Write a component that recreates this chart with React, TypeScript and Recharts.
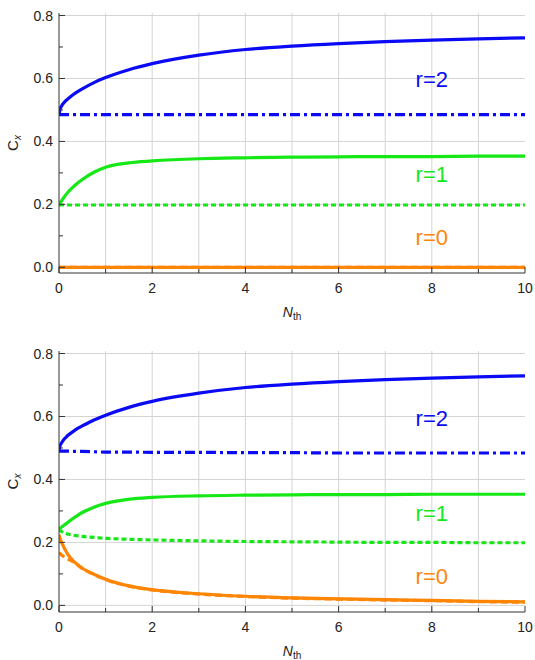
import React from 'react';
import { LineChart, Line, XAxis, YAxis, CartesianGrid, ReferenceDot, Label } from 'recharts';

// ---- data ----
const nTh = [0, 0.02, 0.05, 0.1, 0.15, 0.2, 0.3, 0.4, 0.5, 0.75, 1, 1.5, 2, 3, 4, 5, 6, 7, 8, 9, 10];

// top panel
const blueSolidA = [0.484, 0.501, 0.511, 0.522, 0.53, 0.536, 0.548, 0.558, 0.567, 0.587, 0.603, 0.628, 0.647, 0.674, 0.692, 0.703, 0.711, 0.717, 0.722, 0.726, 0.729];
const blueDashA = [0.485, 0.485, 0.485, 0.485, 0.485, 0.485, 0.485, 0.485, 0.485, 0.485, 0.485, 0.485, 0.485, 0.485, 0.485, 0.485, 0.485, 0.485, 0.485, 0.485, 0.485];
const greenSolidA = [0.198, 0.203, 0.21, 0.221, 0.231, 0.24, 0.255, 0.268, 0.279, 0.302, 0.318, 0.332, 0.338, 0.345, 0.348, 0.35, 0.351, 0.352, 0.352, 0.353, 0.353];
const greenDashA = [0.198, 0.198, 0.198, 0.198, 0.198, 0.198, 0.198, 0.198, 0.198, 0.198, 0.198, 0.198, 0.198, 0.198, 0.198, 0.198, 0.198, 0.198, 0.198, 0.198, 0.198];
const orangeSolidA = [0, 0, 0, 0, 0, 0, 0, 0, 0, 0, 0, 0, 0, 0, 0, 0, 0, 0, 0, 0, 0];
const orangeDashA = [0, 0, 0, 0, 0, 0, 0, 0, 0, 0, 0, 0, 0, 0, 0, 0, 0, 0, 0, 0, 0];

// bottom panel
const blueSolidB = [0.49, 0.506, 0.515, 0.526, 0.534, 0.541, 0.552, 0.562, 0.57, 0.589, 0.604, 0.629, 0.648, 0.674, 0.692, 0.703, 0.711, 0.717, 0.722, 0.726, 0.729];
const blueDashB = [0.49, 0.49, 0.49, 0.49, 0.49, 0.49, 0.489, 0.489, 0.489, 0.488, 0.487, 0.487, 0.486, 0.486, 0.485, 0.485, 0.484, 0.484, 0.484, 0.484, 0.484];
const greenSolidB = [0.241, 0.244, 0.248, 0.254, 0.259, 0.265, 0.276, 0.286, 0.295, 0.312, 0.324, 0.337, 0.343, 0.348, 0.35, 0.351, 0.352, 0.352, 0.353, 0.353, 0.353];
const greenDashB = [0.241, 0.238, 0.235, 0.231, 0.228, 0.226, 0.223, 0.221, 0.219, 0.216, 0.213, 0.21, 0.208, 0.205, 0.203, 0.202, 0.201, 0.2, 0.2, 0.199, 0.199];
const orangeSolidB = [0.225, 0.214, 0.202, 0.186, 0.172, 0.16, 0.142, 0.129, 0.118, 0.099, 0.083, 0.062, 0.05, 0.037, 0.029, 0.024, 0.021, 0.018, 0.016, 0.013, 0.011];
const orangeDashB = [0.168, 0.165, 0.161, 0.155, 0.15, 0.146, 0.139, 0.128, 0.117, 0.098, 0.082, 0.061, 0.049, 0.036, 0.028, 0.023, 0.02, 0.017, 0.015, 0.012, 0.01];

const yTicks = [0, 0.1, 0.2, 0.3, 0.4, 0.5, 0.6, 0.7, 0.8];
const yGrid = [0, 0.2, 0.4, 0.6, 0.8];
const xTicks = [0, 1, 2, 3, 4, 5, 6, 7, 8, 9, 10];
const xGrid = [1, 2, 3, 4, 5, 6, 7, 8, 9];
const curveLabels = ['r=2', 'r=1', 'r=0'];

// ---- style ----
const FONT = '"Liberation Sans", Arial, sans-serif';
const BLUE = '#0a0af5';
const GREEN = '#16e816';
const ORANGE = '#ff8505';
const AXIS = '#333';
const GRID = '#d4d4d4';

const buildRows = (s: number[][]) =>
  nTh.map((n, i) => ({ n, bs: s[0][i], bd: s[1][i], gs: s[2][i], gd: s[3][i], os: s[4][i], od: s[5][i] }));

const rowsA = buildRows([blueSolidA, blueDashA, greenSolidA, greenDashA, orangeSolidA, orangeDashA]);
const rowsB = buildRows([blueSolidB, blueDashB, greenSolidB, greenDashB, orangeSolidB, orangeDashB]);

const YTick = (props: any) => {
  const { x, y, payload } = props;
  const v = payload.value as number;
  const major = Math.round(v * 10) % 2 === 0;
  return (
    <g>
      <line x1={x} x2={x + (major ? 6 : 4)} y1={y} y2={y} stroke={AXIS} strokeWidth={1} />
      {major && (
        <text x={x - 6} y={y} dy={5} textAnchor="end" fontFamily={FONT} fontSize={14} fill="#222">
          {v.toFixed(1)}
        </text>
      )}
    </g>
  );
};

const XTick = (props: any) => {
  const { x, y, payload } = props;
  const v = payload.value as number;
  const major = v % 2 === 0;
  return (
    <g>
      <line x1={x} x2={x} y1={y} y2={y - (major ? 6 : 4)} stroke={AXIS} strokeWidth={1} />
      {major && (
        <text x={x} y={y + 20} textAnchor="middle" fontFamily={FONT} fontSize={14} fill="#222">
          {v}
        </text>
      )}
    </g>
  );
};

const XTitle = (props: any) => {
  const vb = props.viewBox;
  const cx = vb.x + vb.width / 2;
  const cy = vb.y + 44;
  return (
    <text x={cx} y={cy} textAnchor="middle" fontFamily={FONT} fontSize={14} fill="#222">
      <tspan fontStyle="italic">N</tspan>
      <tspan fontSize={10} dy={3}>th</tspan>
    </text>
  );
};

const YTitle = (props: any) => {
  const vb = props.viewBox;
  const cx = 13;
  const cy = vb.y + vb.height / 2;
  return (
    <text
      x={cx}
      y={cy}
      textAnchor="middle"
      transform={`rotate(-90 ${cx} ${cy})`}
      dy={5}
      fontFamily={FONT}
      fontSize={15}
      fill="#222"
    >
      <tspan>C</tspan>
      <tspan fontSize={10} fontStyle="italic" dy={3}>x</tspan>
    </text>
  );
};

type PanelProps = {
  rows: any[];
  yMin: number;
  top: number;
  xAxisHeight: number;
  labelY: number[];
};

const Panel = ({ rows, yMin, top, xAxisHeight, labelY }: PanelProps) => {
  const yDomain: [number, number] = [yMin, 0.808];
  const colors = [BLUE, GREEN, ORANGE];
  return (
    <LineChart width={535} height={330} data={rows} margin={{ top, right: 10, bottom: 0, left: 0 }}>
      <CartesianGrid
        stroke={GRID}
        strokeWidth={1}
        horizontalValues={yGrid}
        verticalValues={xGrid}
      />
      <XAxis
        dataKey="n"
        type="number"
        domain={[0, 10]}
        ticks={xTicks}
        interval={0}
        allowDataOverflow
        height={xAxisHeight}
        tickSize={0}
        tickMargin={0}
        tickLine={false}
        tick={<XTick />}
        axisLine={{ stroke: AXIS, strokeWidth: 1 }}
      >
        <Label content={<XTitle />} />
      </XAxis>
      <XAxis
        xAxisId="top"
        orientation="top"
        type="number"
        domain={[0, 10]}
        height={0}
        tick={false}
        tickLine={false}
        axisLine={{ stroke: '#555', strokeWidth: 1 }}
      />
      <YAxis
        type="number"
        domain={yDomain}
        ticks={yTicks}
        interval={0}
        allowDataOverflow
        width={59}
        tickSize={0}
        tickMargin={0}
        tickLine={false}
        tick={<YTick />}
        axisLine={{ stroke: AXIS, strokeWidth: 1 }}
      >
        <Label content={<YTitle />} />
      </YAxis>
      <YAxis
        yAxisId="right"
        orientation="right"
        type="number"
        domain={yDomain}
        width={0}
        tick={false}
        tickLine={false}
        axisLine={{ stroke: '#555', strokeWidth: 1 }}
      />
      <Line type="monotone" dataKey="bs" stroke={BLUE} strokeWidth={3.2} dot={false} isAnimationActive={false} />
      <Line type="monotone" dataKey="gs" stroke={GREEN} strokeWidth={3.2} dot={false} isAnimationActive={false} />
      <Line type="monotone" dataKey="os" stroke={ORANGE} strokeWidth={3.2} dot={false} isAnimationActive={false} />
      <Line type="monotone" dataKey="bd" stroke={BLUE} strokeWidth={3.2} strokeDasharray="10 4 3 4" dot={false} isAnimationActive={false} />
      <Line type="monotone" dataKey="gd" stroke={GREEN} strokeWidth={3.2} strokeDasharray="5 3" dot={false} isAnimationActive={false} />
      <Line type="monotone" dataKey="od" stroke={ORANGE} strokeWidth={3.2} strokeDasharray="7 4" dot={false} isAnimationActive={false} />
      {curveLabels.map((t, i) => (
        <ReferenceDot
          key={t}
          x={8}
          y={labelY[i]}
          r={0}
          fill="none"
          stroke="none"
          label={{ value: t, position: 'center', fill: colors[i], fontSize: 22, fontFamily: FONT }}
        />
      ))}
    </LineChart>
  );
};

export default function App() {
  return (
    <div style={{ position: 'absolute', left: 0, top: 0, width: 535, height: 660, background: '#fff' }}>
      <div style={{ position: 'absolute', left: 0, top: 0 }}>
        <Panel rows={rowsA} yMin={-0.018} top={13} xAxisHeight={57} labelY={[0.597, 0.295, 0.095]} />
      </div>
      <div style={{ position: 'absolute', left: 0, top: 330 }}>
        <Panel rows={rowsB} yMin={-0.021} top={21} xAxisHeight={48} labelY={[0.595, 0.294, 0.094]} />
      </div>
    </div>
  );
}
